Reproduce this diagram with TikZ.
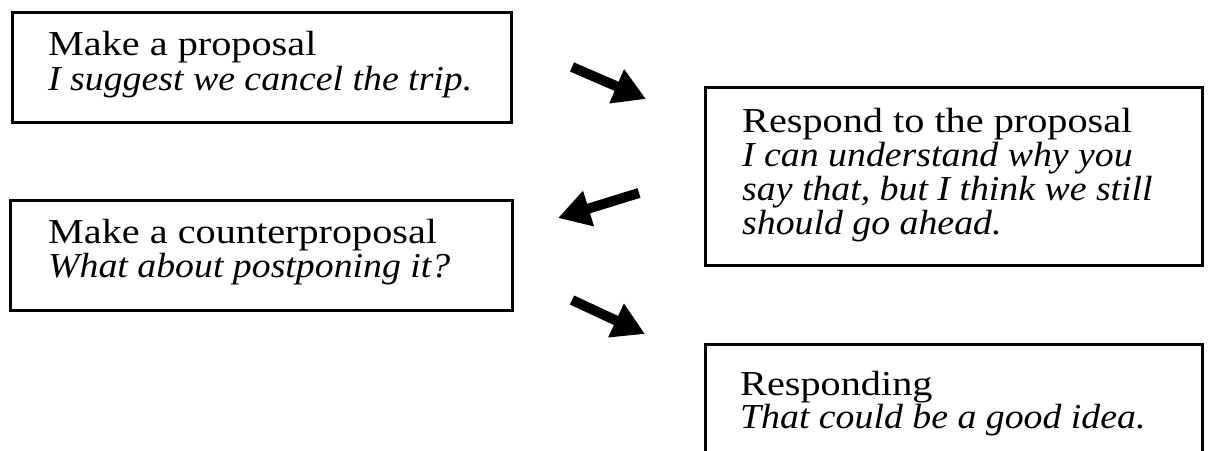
\documentclass[tikz,border=0pt]{standalone}
\usepackage{fontspec}
\setmainfont{Liberation Serif}[FakeStretch=1.15]
\newfontfamily\itfam{Liberation Serif}[FakeStretch=1.08]
\usetikzlibrary{arrows.meta}
\begin{document}
\begin{tikzpicture}[x=1pt,y=-1pt,
  stepbox/.style={draw=black,line width=3pt,inner sep=0pt},
  txt/.style={anchor=base west,inner sep=0pt,font=\fontsize{35}{36}\selectfont},
  itxt/.style={txt,font=\fontsize{35}{36}\selectfont\itfam\itshape},
  bigarrow/.style={line width=10pt,-{Triangle[length=32pt,width=35pt]}}]
\useasboundingbox (0,0) rectangle (1212,450);
\fill[white] (0,0) rectangle (1212,450);
% boxes
\node[stepbox,minimum width=499pt,minimum height=110pt] (b1) at (261.5,67) {};
\node[stepbox,minimum width=497pt,minimum height=178pt] (b2) at (954,176) {};
\node[stepbox,minimum width=502pt,minimum height=110pt] (b3) at (261,255) {};
\node[stepbox,minimum width=497pt,minimum height=130pt] (b4) at (954,409) {};
% texts
\node[txt]  (t1a) at (48,55) {Make a proposal};
\node[itxt] (t1b) at (48,90) {I suggest we cancel the trip.};
\node[txt]  (t2a) at (742,132) {Respond to the proposal};
\node[itxt] (t2b) at (742,166) {I can understand why you};
\node[itxt] (t2c) at (742,200) {say that, but I think we still};
\node[itxt] (t2d) at (742,234) {should go ahead.};
\node[txt]  (t3a) at (48,243) {Make a counterproposal};
\node[itxt] (t3b) at (48,277) {What about postponing it?};
\node[txt]  (t4a) at (740,395) {Responding};
\node[itxt] (t4b) at (740,428) {That could be a good idea.};
% arrows
\coordinate (a1s) at (572,67);  \coordinate (a1e) at (646,99);
\coordinate (a2s) at (639,193); \coordinate (a2e) at (558,218);
\coordinate (a3s) at (572,300); \coordinate (a3e) at (645,334);
\draw[bigarrow] (a1s) -- (a1e);
\draw[bigarrow] (a2s) -- (a2e);
\draw[bigarrow] (a3s) -- (a3e);
\end{tikzpicture}
\end{document}
